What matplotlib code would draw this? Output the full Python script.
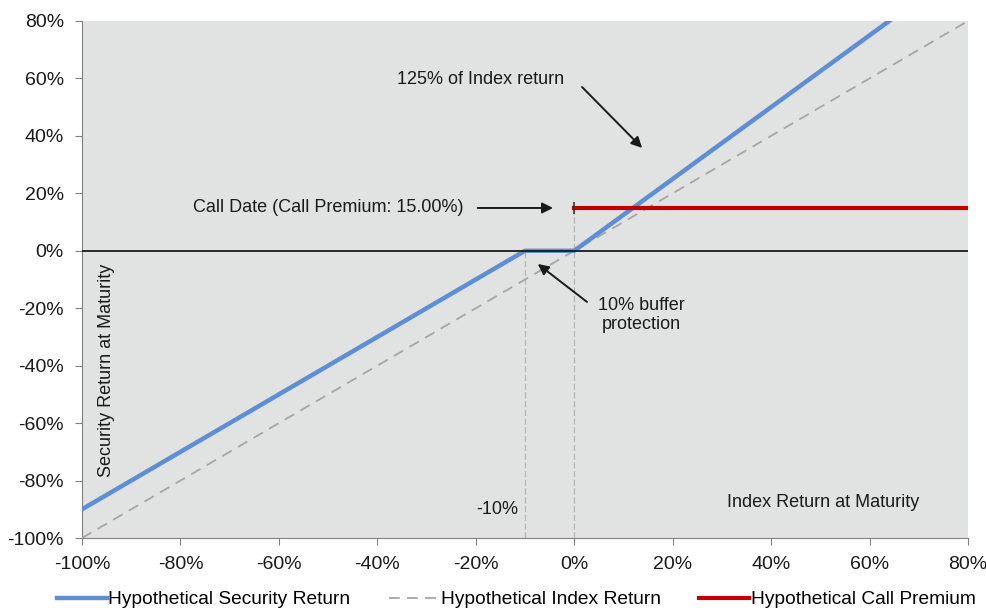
import numpy as np
import matplotlib.pyplot as plt
from matplotlib.ticker import FuncFormatter

plt.rcParams['font.family'] = ['Liberation Sans', 'DejaVu Sans']

# payoff breakpoints (index return -> security return), in percent
index_x = [-100, 80]
index_y = [-100, 80]
security_x = [-100, -10, 0, 80]
security_y = [-90, 0, 0, 100]
call_premium = 15.0
call_x = [0, 80]
buffer_level = -10

ticks_x = np.arange(-100, 81, 20)
ticks_y = np.arange(-100, 81, 20)

blue = '#5d8ed6'
red = '#c00000'
idx_gray = '#a6a6a6'

fig = plt.figure(figsize=(9.87, 6.10), dpi=100)
ax = fig.add_axes([0.0831, 0.118, 0.8976, 0.8476])
ax.set_facecolor('#e1e2e2')

# reference lines
ax.axhline(0, color='#1a1a1a', lw=1.3, zorder=4.5)
ax.plot([buffer_level, buffer_level], [-100, 0], color='#b5b5b5', lw=0.9,
        ls=(0, (5, 2)), zorder=1)
ax.plot([0, 0], [-100, call_premium], color='#b5b5b5', lw=0.9,
        ls=(0, (5, 2)), zorder=1)

l_idx, = ax.plot(index_x, index_y, color=idx_gray, lw=1.3, ls=(0, (6, 4)),
                 zorder=3, label='Hypothetical Index Return')
l_sec, = ax.plot(security_x, security_y, color=blue, lw=3.2, zorder=4,
                 label='Hypothetical Security Return')
l_call, = ax.plot(call_x, [call_premium] * 2, color=red, lw=3.0, zorder=5,
                  label='Hypothetical Call Premium')
ax.plot([0], [call_premium], marker='|', ms=9, mew=1.2, color='#333333', zorder=6)

ax.set_xlim(-100, 80)
ax.set_ylim(-100, 80)
ax.set_xticks(ticks_x)
ax.set_yticks(ticks_y)
pct = FuncFormatter(lambda v, p: '{:.0f}%'.format(v))
ax.xaxis.set_major_formatter(pct)
ax.yaxis.set_major_formatter(pct)
ax.tick_params(direction='out', length=5, color='#808080', labelsize=14,
               labelcolor='#1a1a1a')
ax.tick_params(axis='y', pad=8)
ax.tick_params(axis='x', pad=8)

for side in ['top', 'right']:
    ax.spines[side].set_visible(False)
for side in ['left', 'bottom']:
    ax.spines[side].set_color('#808080')

txt = dict(fontsize=13, color='#1a1a1a')
ax.text(-95.1, -41.5, 'Security Return at Maturity', rotation=90,
        ha='center', va='center', **txt)
ax.text(50.5, -87.8, 'Index Return at Maturity', ha='center', va='center', **txt)
ax.text(-15.7, -89.9, '-10%', ha='center', va='center', **txt)

arrow = dict(arrowstyle='-|>', color='#1a1a1a', lw=1.4, mutation_scale=16,
             shrinkA=0, shrinkB=0)
ax.text(-19.1, 59.5, '125% of Index return', ha='center', va='center', **txt)
ax.annotate('', xy=(13.8, 35.8), xytext=(1.6, 57.0), arrowprops=arrow)
ax.text(-50.0, 14.9, 'Call Date (Call Premium: 15.00%)', ha='center',
        va='center', **txt)
ax.annotate('', xy=(-4.3, 14.9), xytext=(-19.6, 14.9), arrowprops=arrow)
ax.text(13.6, -22.4, '10% buffer\nprotection', ha='center', va='center',
        linespacing=1.15, **txt)
ax.annotate('', xy=(-7.4, -4.6), xytext=(2.6, -17.8), arrowprops=arrow)

fig.legend(handles=[l_sec, l_idx, l_call], loc='center',
           bbox_to_anchor=(0.523, 0.017), ncol=3, frameon=False,
           fontsize=13.8, handlelength=2.6, handletextpad=0.1,
           columnspacing=2.0, borderaxespad=0)

fig.savefig('out.png', dpi=100)
